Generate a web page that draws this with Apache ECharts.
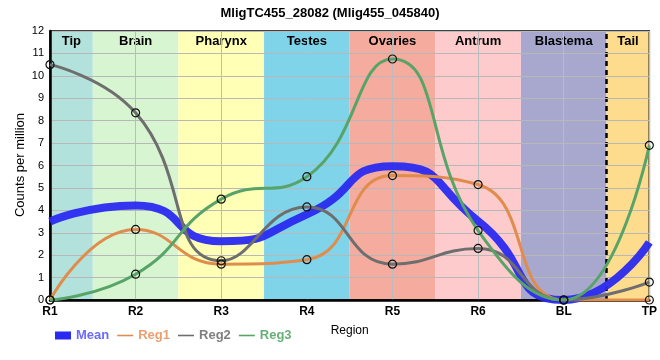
<!DOCTYPE html>
<html><head><meta charset="utf-8">
<script src="https://cdn.jsdelivr.net/npm/echarts@6/dist/echarts.min.js"></script>
<style>html,body{margin:0;padding:0;background:#fff}#c{width:660px;height:360px}</style>
</head><body><div id="c"></div>
<script>
var categories = ['R1','R2','R3','R4','R5','R6','BL','TP'];
var meanVals = [3.5, 4.22, 2.62, 3.82, 5.97, 3.52, 0, 2.57];
var reg1Vals = [0, 3.15, 1.6, 1.8, 5.55, 5.15, 0, 0];
var reg2Vals = [10.5, 8.35, 1.75, 4.15, 1.6, 2.3, 0, 0.8];
var reg3Vals = [0, 1.15, 4.5, 5.5, 10.75, 3.1, 0, 6.9];
var regionNames = ['Tip','Brain','Pharynx','Testes','Ovaries','Antrum','Blastema','Tail'];
var regionStart = [0, 0.5, 1.5, 2.5, 3.5, 4.5, 5.5, 6.5];
var regionEnd = [0.5, 1.5, 2.5, 3.5, 4.5, 5.5, 6.5, 7];
var regionColors = ['#b3e2dc','#d7f5d0','#ffffb5','#7fd4ea','#f5ab9e','#fdcbcc','#a8a8cf','#fedc8d'];
var yTicks = [0,1,2,3,4,5,6,7,8,9,10,11,12];

var chart = echarts.init(document.getElementById('c'), null, {renderer:'canvas'});
var font = 'Liberation Sans';
var bands = regionNames.map(function(n,i){
  return [{xAxis: regionStart[i], name: n, itemStyle:{color: regionColors[i]}}, {xAxis: regionEnd[i]}];
});
var xMax = categories.length - 1;

function regSeries(name, data, color){
  return {name:name, type:'line', data:data, smooth:0.5, xAxisIndex:0, z:4, zlevel:1,
    lineStyle:{color:color, width:3},
    symbol:'circle', symbolSize:8, showSymbol:true,
    itemStyle:{color:'rgba(0,0,0,0)', borderColor:'#111', borderWidth:1.2},
    emphasis:{disabled:true}};
}
var lineIcon = 'path://M0,0 L30,0 L30,3 L0,3 Z';
chart.setOption({
  animation:false,
  textStyle:{fontFamily:font},
  title:{text:'MligTC455_28082 (Mlig455_045840)', left:'center', top:2, zlevel:1,
    textStyle:{fontSize:13, fontWeight:'bold', color:'#000', fontFamily:font}},
  grid:{left:50, right:10, top:31, bottom:60, show:true, borderColor:'#000', borderWidth:1.5, zlevel:1},
  graphic:[{type:'text', x:20, y:165, rotation:Math.PI/2, zlevel:1,
    style:{text:'Counts per million', fill:'#000', font:'13px "Liberation Sans"', textAlign:'center', textVerticalAlign:'middle'}}],
  legend:{left:50, top:324, itemGap:8, itemWidth:16, itemHeight:8, selectedMode:false, zlevel:1,
    textStyle:{fontSize:13, fontFamily:font, fontWeight:'bold'},
    data:[
      {name:'Mean', icon:'rect', itemStyle:{color:'#2a2af0', borderWidth:0}, textStyle:{color:'#6a6aff'}},
      {name:'Reg1', icon:lineIcon, itemStyle:{color:'#e08c4c', borderWidth:0}, textStyle:{color:'#eaa070'}},
      {name:'Reg2', icon:lineIcon, itemStyle:{color:'#6e6e6e', borderWidth:0}, textStyle:{color:'#808080'}},
      {name:'Reg3', icon:lineIcon, itemStyle:{color:'#58a468', borderWidth:0}, textStyle:{color:'#68b078'}}
    ]},
  xAxis:[
    {type:'category', data:categories, boundaryGap:false, name:'Region', nameLocation:'middle', nameGap:25, zlevel:1, z:1,
     nameTextStyle:{color:'#000', fontSize:12, fontFamily:font},
     axisLine:{lineStyle:{color:'#000', width:2.5}}, axisTick:{show:false},
     axisLabel:{color:'#000', fontSize:12, fontWeight:'bold', margin:6, fontFamily:font},
     splitLine:{show:true, lineStyle:{color:'#bcbcbc', width:1}}},
    {type:'value', min:0, max:xMax, show:false}
  ],
  yAxis:{type:'value', min:0, max:12, interval:1, zlevel:1, z:1,
    axisLine:{show:true, lineStyle:{color:'#000', width:2.5}}, axisTick:{show:false},
    axisLabel:{color:'#000', fontSize:11, margin:6, fontFamily:font, formatter:function(v){return yTicks.indexOf(v)>=0?String(v):'';}},
    splitLine:{show:true, lineStyle:{color:'#b8b8b8', width:1.2}}},
  series:[
    {name:'bands', type:'line', xAxisIndex:1, data:[], z:0, zlevel:0, silent:true,
     markArea:{silent:true, z:0, label:{show:true, position:'insideTop', distance:4, color:'#000', fontSize:13, fontWeight:'bold', fontFamily:font},
       data:bands}},
    {name:'divider', type:'line', xAxisIndex:1, data:[], z:6, zlevel:1, silent:true,
     markLine:{silent:true, z:6, symbol:'none', label:{show:false},
       lineStyle:{color:'#000', type:[5,4], width:2.5},
       data:[{xAxis:6.5}]}},
    {name:'Mean', type:'line', data:meanVals, smooth:0.6, showSymbol:false, symbol:'none', z:3, zlevel:1,
     lineStyle:{color:'#2a2af0', width:8, opacity:0.95}, itemStyle:{color:'#2a2af0'}},
    regSeries('Reg1', reg1Vals, '#e08c4c'),
    regSeries('Reg2', reg2Vals, '#6e6e6e'),
    regSeries('Reg3', reg3Vals, '#58a468')
  ]
});
</script></body></html>
